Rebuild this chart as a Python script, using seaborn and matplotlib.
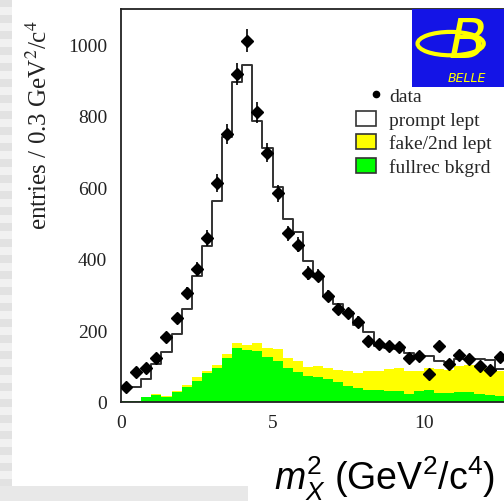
import numpy as np
import pandas as pd
import matplotlib
matplotlib.use("Agg")
import matplotlib.pyplot as plt
from matplotlib.patches import Patch, Rectangle, Ellipse
from matplotlib.lines import Line2D
from matplotlib.legend_handler import HandlerBase
import seaborn as sns

# missing mass squared histogram, bins of 1/3 GeV^2 starting at 0
bin_width = 1 / 3
n_bins = 38

data_counts = [43, 83, 94, 123, 181, 234, 304, 372, 458, 611, 749, 917, 1009, 809,
               697, 583, 471, 439, 360, 353, 297, 260, 248, 224, 171, 162, 157, 153,
               122, 129, 78, 156, 106, 131, 120, 101, 89, 125]

# stacked MC levels (top of each layer)
mc_total = [41, 41, 64, 106, 139, 190, 260, 353, 437, 562, 739, 893, 942, 786,
            709, 600, 511, 474, 393, 350, 295, 275, 252, 215, 195, 157, 152, 148,
            137, 129, 129, 115, 112, 120, 120, 120, 118, 92]
fake_plus_fullrec = [4, 4, 14, 21, 16, 32, 47, 69, 88, 104, 134, 165, 159, 165,
                     150, 148, 122, 115, 97, 100, 94, 90, 86, 80, 88, 88, 92, 96,
                     88, 88, 94, 92, 90, 100, 102, 102, 96, 88]
fullrec_bkg = [2, 2, 13, 20, 15, 29, 41, 60, 80, 95, 122, 150, 146, 143,
               127, 115, 94, 85, 72, 69, 64, 55, 46, 38, 34, 34, 32, 32,
               22, 32, 34, 26, 25, 29, 29, 22, 19, 18]

legend_labels = ["data", "prompt lept", "fake/2nd lept", "fullrec bkgrd"]

edges = (np.arange(n_bins + 1) * bin_width).tolist()
centers = np.array(edges[:-1]) + bin_width / 2
df = pd.DataFrame({'mx2': centers, 'data': data_counts, 'total': mc_total,
                   'fake': fake_plus_fullrec, 'fullrec': fullrec_bkg})


class DotHandler(HandlerBase):
    # ROOT-style legend: the data dot sits at the right end of the handle box
    def create_artists(self, legend, orig_handle, xdescent, ydescent, width, height,
                       fontsize, trans):
        dot = Line2D([width - xdescent], [height / 2 - ydescent], marker='o', ms=4.5,
                     color='black', lw=0, transform=trans)
        return [dot]


sns.set_style("white")
plt.rcParams['font.family'] = ['Liberation Serif', 'DejaVu Serif']
plt.rcParams['mathtext.fontset'] = 'custom'
plt.rcParams['mathtext.rm'] = 'Liberation Sans'
plt.rcParams['mathtext.it'] = 'Liberation Sans:italic'

fig = plt.figure(figsize=(5.04, 5.02), dpi=100)
fig.patch.set_facecolor('white')

# slide background bits
for k in range(0, 502, 16):
    fig.patches.append(Rectangle((0, 1 - (k + 8) / 502), 12 / 504, 8 / 502,
                                 transform=fig.transFigure, color='#e2e2e2', lw=0, zorder=0))
    fig.patches.append(Rectangle((0, 1 - (k + 16) / 502), 12 / 504, 8 / 502,
                                 transform=fig.transFigure, color='#f1f1f1', lw=0, zorder=0))
fig.patches.append(Rectangle((0, 0), 248 / 504, 15 / 502, transform=fig.transFigure,
                             color='#e8e8e8', lw=0, zorder=0))

ax = fig.add_axes([121 / 504, 99 / 502, 454.5 / 504, 393 / 502])
ax.set_facecolor('none')

sns.histplot(data=df, x='mx2', weights='fake', bins=edges, element='step', fill=True,
             color='#ffff00', alpha=1, linewidth=0, ax=ax)
sns.histplot(data=df, x='mx2', weights='fullrec', bins=edges, element='step', fill=True,
             color='#00ff00', alpha=1, linewidth=0, ax=ax)
sns.histplot(data=df, x='mx2', weights='total', bins=edges, element='step', fill=False,
             color='#333333', linewidth=1.4, ax=ax)

ax.errorbar(df['mx2'], df['data'], yerr=np.sqrt(df['data']), xerr=0.12, fmt='D',
            ms=6, color='black', elinewidth=1.2, capsize=0, zorder=5)

ax.set_xlim(0, 15)
ax.set_ylim(0, 1098)
ax.set_xlabel('')
ax.set_ylabel('')
ax.set_xticks([0, 5, 10])
ax.set_xticks(np.arange(0, 16, 1), minor=True)
ax.set_yticks([0, 200, 400, 600, 800, 1000])
ax.set_yticks(np.arange(0, 1100, 50), minor=True)
ax.tick_params(which='major', direction='in', length=13, width=1.2, labelsize=14,
               colors='#222222')
ax.tick_params(which='minor', direction='in', length=7, width=1.2)
ax.tick_params(axis='x', pad=9)
ax.tick_params(axis='y', pad=10)
for s in ax.spines.values():
    s.set_color('#222222')
    s.set_linewidth(1.3)

fig.text(39 / 504, 1 - 125 / 502, r'entries / 0.3 GeV$^2$/c$^4$', rotation=90,
         ha='center', va='center', fontsize=18, color='#222222', math_fontfamily='stix')
fig.text(385 / 504, 1 - 479 / 502, r'$m_X^2$ (GeV$^2$/c$^4$)', ha='center', va='center',
         fontsize=27, family='Liberation Sans', color='black')

handles = [
    Line2D([], [], marker='o', ms=4.5, color='black', lw=0),
    Patch(facecolor='white', edgecolor='#333333', lw=1.2),
    Patch(facecolor='#ffff00', edgecolor='#333333', lw=1.2),
    Patch(facecolor='#00ff00', edgecolor='#333333', lw=1.2),
]
fig.legend(handles, legend_labels, loc='upper left', bbox_to_anchor=(356 / 504, 1 - 88 / 502),
           frameon=False, fontsize=14, handlelength=1.05, handleheight=0.8,
           handletextpad=0.65, labelspacing=0.28, borderpad=0, borderaxespad=0,
           handler_map={handles[0]: DotHandler()})

# BELLE logo box
logo = fig.add_axes([412 / 504, 1 - 87.5 / 502, 92 / 504, 78 / 502])
logo.set_facecolor('#1414e6')
logo.set_xlim(0, 1)
logo.set_ylim(0, 1)
logo.set_xticks([])
logo.set_yticks([])
for s in logo.spines.values():
    s.set_visible(False)
logo.add_patch(Ellipse((0.42, 0.55), 0.72, 0.3, fill=False, edgecolor='#ffff00', lw=3))
logo.text(0.6, 0.58, 'B', color='#ffff00', fontsize=40, style='italic',
          family='DejaVu Sans', ha='center', va='center')
logo.text(0.6, 0.12, 'BELLE', color='#ffff00', fontsize=9, style='italic',
          family='DejaVu Sans', ha='center', va='center')

fig.savefig('out.png', dpi=100)
